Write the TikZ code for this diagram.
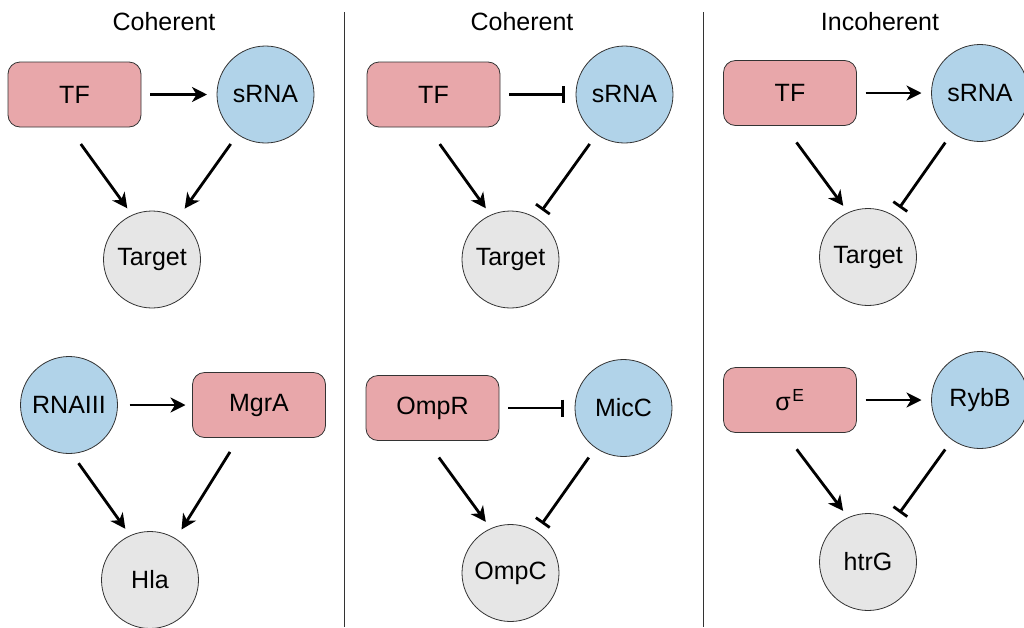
\documentclass[tikz,border=0pt]{standalone}
\usepackage{fontspec}
\setmainfont{Liberation Sans}
\usepackage{tikz}
\usetikzlibrary{positioning}
\usetikzlibrary{arrows.meta}

\definecolor{tfpink}{RGB}{232,167,170}
\definecolor{rnablue}{RGB}{177,211,233}
\definecolor{tgtgrey}{RGB}{230,230,230}

\tikzset{
	motiftext/.style = {font=\fontsize{25}{30}\selectfont, text=black},
	tfbox/.style = {motiftext, fill = tfpink, draw = black!80, line width = 0.8pt, rectangle, rounded corners = 12pt, minimum width = 133pt, minimum height = 65pt, outer sep = 0pt},
	rnacirc/.style = {motiftext, fill = rnablue, draw = black!80, line width = 0.8pt, circle, minimum size = 97pt, inner sep = 0pt, outer sep = 0pt},
	tgtcirc/.style = {motiftext, fill = tgtgrey, draw = black!80, line width = 0.8pt, circle, minimum size = 97pt, inner sep = 0pt, outer sep = 0pt},
	heading/.style = {font=\fontsize{25}{30}\selectfont},
	act/.style = {-{Stealth[length=15pt,width=15pt,inset=4.5pt]}, line width = 2.8pt},
	inh/.style = {-{Bar[width=17pt]}, line width = 2.8pt},
	divider/.style = {black!80, line width = 0.9pt}
}

\begin{document}
\begin{tikzpicture}[x=1pt,y=-1pt]
		\useasboundingbox (0,0) rectangle (1024,627);
		% headings and dividers
		\node[heading] at (164,22) (head1) {Coherent};
		\node[heading] at (522,22) (head2) {Coherent};
		\node[heading] at (880,22) (head3) {Incoherent};
		\draw[divider] (344,12) -- (344,627);
		\draw[divider] (703,12) -- (703,627);
		% coherent, activating sRNA
		\node[tfbox] at (74.5,94.5) (tf1) {TF};
		\node[rnacirc, right = 76pt of tf1] (srna1) {sRNA};
		\node[tgtcirc] at (152,259.5) (tgt1) {Target};
		\draw[act, shorten <=9pt, shorten >=10pt] (tf1) -- (srna1);
		\draw[act, shorten <=21pt, shorten >=8.5pt] ([xshift=-6pt]tf1.south) -- (tgt1.114);
		\draw[act, shorten <=12pt, shorten >=12pt] (srna1.-125) -- (tgt1.58);
		\node[rnacirc] at (69,405) (rna3) {RNAIII};
		\node[tfbox, right = 75pt of rna3] (mgra) {MgrA};
		\node[tgtcirc] at (150,580) (hla) {Hla};
		\draw[act, shorten <=12pt, shorten >=7pt] (rna3) -- (mgra);
		\draw[act, shorten <=12pt, shorten >=8.5pt] (rna3.-87) -- (hla.114);
		\draw[act, shorten <=17pt, shorten >=11pt] ([xshift=-20pt]mgra.south) -- (hla.58);
		% coherent, repressing sRNA
		\node[tfbox] at (433.5,94.5) (tf2) {TF};
		\node[rnacirc, right = 76pt of tf2] (srna2) {sRNA};
		\node[tgtcirc] at (510.5,259.5) (tgt2) {Target};
		\draw[inh, shorten <=9pt, shorten >=11pt] (tf2) -- (srna2);
		\draw[act, shorten <=21pt, shorten >=8.5pt] ([xshift=-6pt]tf2.south) -- (tgt2.114);
		\draw[inh, shorten <=12pt, shorten >=10pt] (srna2.-125) -- (tgt2.58);
		\node[tfbox] at (432.5,408) (ompr) {OmpR};
		\node[rnacirc, right = 76pt of ompr] (micc) {MicC};
		\node[tgtcirc] at (510.5,573) (ompc) {OmpC};
		\draw[inh, shorten <=9pt, shorten >=11pt] (ompr) -- (micc);
		\draw[act, shorten <=21pt, shorten >=8.5pt] ([xshift=-6pt]ompr.south) -- (ompc.114);
		\draw[inh, shorten <=12pt, shorten >=10pt] (micc.-125) -- (ompc.58);
		% incoherent
		\node[tfbox] at (790,93) (tf3) {TF};
		\node[rnacirc, right = 75pt of tf3] (srna3) {sRNA};
		\node[tgtcirc] at (868,257) (tgt3) {Target};
		\draw[act, shorten <=9pt, shorten >=10pt] (tf3) -- (srna3);
		\draw[act, shorten <=21pt, shorten >=8.5pt] ([xshift=-6pt]tf3.south) -- (tgt3.114);
		\draw[inh, shorten <=12pt, shorten >=10pt] (srna3.-125) -- (tgt3.58);
		\node[tfbox] at (790,400) (sige) {σ\textsuperscript{\kern1.5pt E}};
		\node[rnacirc, right = 75pt of sige] (rybb) {RybB};
		\node[tgtcirc] at (868,562) (htrg) {htrG};
		\draw[act, shorten <=9pt, shorten >=10pt] (sige) -- (rybb);
		\draw[act, shorten <=21pt, shorten >=8.5pt] ([xshift=-6pt]sige.south) -- (htrg.114);
		\draw[inh, shorten <=12pt, shorten >=10pt] (rybb.-125) -- (htrg.58);
	\end{tikzpicture}
\end{document}
